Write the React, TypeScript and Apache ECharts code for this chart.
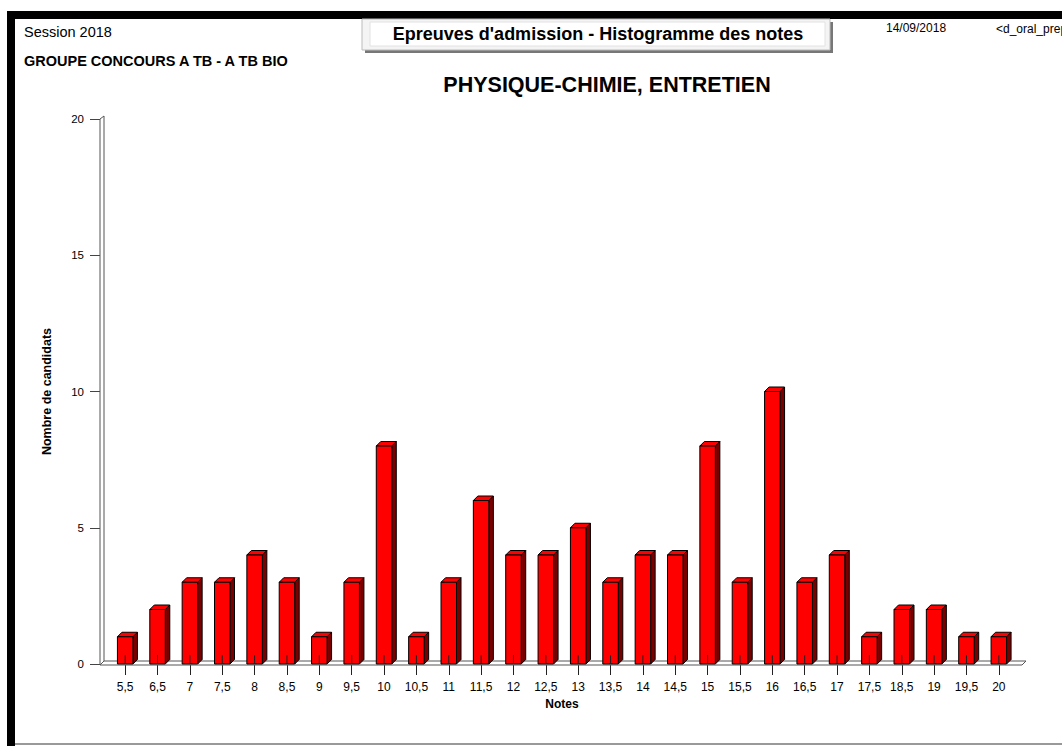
import React, { useEffect, useRef } from "react";
import * as echarts from "echarts";

const categories = ["5,5", "6,5", "7", "7,5", "8", "8,5", "9", "9,5", "10", "10,5", "11", "11,5", "12", "12,5", "13", "13,5", "14", "14,5", "15", "15,5", "16", "16,5", "17", "17,5", "18,5", "19", "19,5", "20"];
const counts = [1, 2, 3, 3, 4, 3, 1, 3, 8, 1, 3, 6, 4, 4, 5, 3, 4, 4, 8, 3, 10, 3, 4, 1, 2, 2, 1, 1];
const yTicks = { min: 0, max: 20, interval: 5 };

const FONT = "Arial, 'Liberation Sans', sans-serif";

export default function App() {
  const ref = useRef<HTMLDivElement>(null);
  useEffect(() => {
    if (!ref.current) return;
    const chart = echarts.init(ref.current, null, { renderer: "svg" });
    const barData = counts.map((v, i) => [i, v]);
    const option: any = {
      animation: false,
      backgroundColor: "#ffffff",
      title: {
        text: "PHYSIQUE-CHIMIE, ENTRETIEN",
        left: 602,
        top: 69,
        textAlign: "center",
        textStyle: { fontFamily: FONT, fontSize: 21.5, fontWeight: "bold", color: "#000" },
      },
      grid: { left: 109, right: 47, top: 119, bottom: 82 },
      xAxis: {
        type: "category",
        data: categories,
        name: "Notes",
        nameLocation: "middle",
        nameGap: 33,
        nameTextStyle: { fontFamily: FONT, fontSize: 12, fontWeight: "bold", color: "#000" },
        axisLine: { show: false },
        axisTick: { show: true, alignWithLabel: true, length: 11, lineStyle: { color: "#222" } },
        axisLabel: { fontFamily: FONT, fontSize: 12, color: "#000", margin: 17, interval: 0 },
        splitLine: { show: false },
      },
      yAxis: {
        type: "value",
        min: yTicks.min,
        max: yTicks.max,
        interval: yTicks.interval,
        offset: 9,
        name: "Nombre de candidats",
        nameLocation: "middle",
        nameGap: 47,
        nameRotate: 90,
        nameTextStyle: { fontFamily: FONT, fontSize: 12.5, fontWeight: "bold", color: "#000" },
        axisLine: { show: false },
        axisTick: { show: true, length: 10, lineStyle: { color: "#444" } },
        axisLabel: { fontFamily: FONT, fontSize: 11.5, color: "#000", margin: 16 },
        splitLine: { show: false },
      },
      series: [
        {
          type: "custom",
          silent: true,
          data: [[0, 0]],
          z: 1,
          renderItem: (params: any, api: any) => {
            const cs = params.coordSys;
            const p0 = api.coord([0, 0]);
            const y0 = p0[1];
            const L = cs.x - 9;
            const R = cs.x + cs.width + 7;
            const top = cs.y;
            return {
              type: "group",
              children: [
                {
                  type: "polygon",
                  shape: { points: [[L, y0 + 1], [L, top], [L + 4, top - 3], [L + 4, y0 - 3]] },
                  style: { fill: "#fff", stroke: "#555", lineWidth: 1 },
                },
                {
                  type: "polygon",
                  shape: { points: [[L, y0 + 1], [L + 4, y0 - 3], [R + 4, y0 - 3], [R, y0 + 1]] },
                  style: { fill: "#fff", stroke: "#555", lineWidth: 1 },
                },
              ],
            };
          },
        },
        {
          type: "custom",
          data: barData,
          z: 2,
          renderItem: (params: any, api: any) => {
            const idx = api.value(0);
            const v = api.value(1);
            const p = api.coord([idx, v]);
            const p0 = api.coord([idx, 0]);
            const bw = 15.5;
            const d = 4.5;
            const xl = p[0] - bw / 2;
            const xr = p[0] + bw / 2;
            const yt = p[1];
            const yb = p0[1];
            return {
              type: "group",
              children: [
                {
                  type: "polygon",
                  shape: { points: [[xr, yt], [xr + d, yt - d], [xr + d, yb - d], [xr, yb]] },
                  style: { fill: "#7a0000", stroke: "#000", lineWidth: 1 },
                },
                {
                  type: "polygon",
                  shape: { points: [[xl, yt], [xl + d, yt - d], [xr + d, yt - d], [xr, yt]] },
                  style: { fill: "#ff0000", stroke: "#000", lineWidth: 1 },
                },
                {
                  type: "rect",
                  shape: { x: xl, y: yt, width: bw, height: yb - yt },
                  style: { fill: "#ff0000", stroke: "#000", lineWidth: 1 },
                },
                {
                  type: "line",
                  shape: { x1: p[0], y1: yb - 9, x2: p[0], y2: yb },
                  style: { stroke: "#222", lineWidth: 1 },
                },
              ],
            };
          },
        },
      ],
      graphic: [
        { type: "rect", shape: { x: 7, y: 11, width: 1060, height: 8 }, style: { fill: "#000" } },
        { type: "rect", shape: { x: 7, y: 11, width: 8, height: 740 }, style: { fill: "#000" } },
        { type: "rect", shape: { x: 15, y: 743, width: 1050, height: 2 }, style: { fill: "#999" } },
        { type: "rect", shape: { x: 365, y: 22, width: 468, height: 31 }, style: { fill: "#777" } },
        { type: "rect", shape: { x: 362, y: 19, width: 468, height: 31 }, style: { fill: "#f4f4f4", stroke: "#bbb", lineWidth: 1 } },
        { type: "rect", shape: { x: 370, y: 22, width: 455, height: 24 }, style: { fill: "#fff", stroke: "#e2e2e2", lineWidth: 1 } },
        {
          type: "text",
          x: 598,
          y: 34,
          style: { text: "Epreuves d'admission - Histogramme des notes", fontFamily: FONT, fontSize: 18, fontWeight: "bold", fill: "#000", textAlign: "center", textVerticalAlign: "middle" },
        },
        {
          type: "text",
          x: 24,
          y: 32,
          style: { text: "Session 2018", fontFamily: FONT, fontSize: 14.5, fill: "#000", textVerticalAlign: "middle" },
        },
        {
          type: "text",
          x: 24,
          y: 61,
          style: { text: "GROUPE CONCOURS A TB - A TB BIO", fontFamily: FONT, fontSize: 14.5, fontWeight: "bold", fill: "#000", textVerticalAlign: "middle" },
        },
        {
          type: "text",
          x: 886,
          y: 28,
          style: { text: "14/09/2018", fontFamily: FONT, fontSize: 12, fill: "#000", textVerticalAlign: "middle" },
        },
        {
          type: "text",
          x: 996,
          y: 29,
          style: { text: "<d_oral_prep", fontFamily: FONT, fontSize: 12, fill: "#000", textVerticalAlign: "middle" },
        },
      ],
    };
    chart.setOption(option);
    return () => chart.dispose();
  }, []);
  return (
    <div
      ref={ref}
      style={{ position: "fixed", left: 0, top: 0, width: 1062, height: 746, background: "#fff" }}
    />
  );
}
